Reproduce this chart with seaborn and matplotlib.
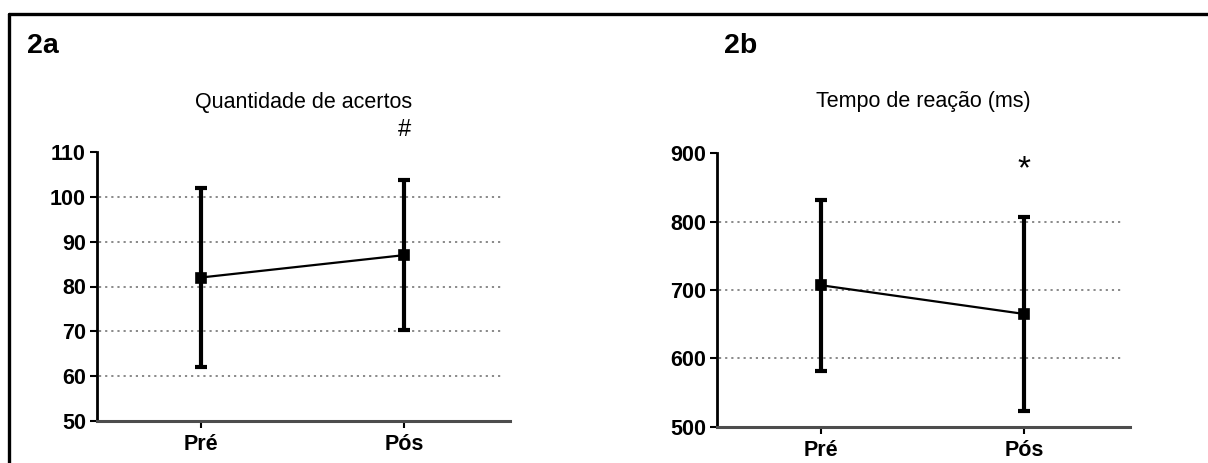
import matplotlib
matplotlib.use('Agg')
import matplotlib.pyplot as plt
import matplotlib.lines as mlines
import pandas as pd
import seaborn as sns

# dados (media e desvio padrao)
momentos = ['Pré', 'Pós']

acertosMedia = [82, 87]
acertosDP = [20, 16.7]

tempoMedia = [707, 665]
tempoDP = [125, 141]

sns.set_theme(style='white')
plt.rcParams['font.family'] = ['Liberation Sans', 'DejaVu Sans']
plt.rcParams['text.color'] = 'black'
plt.rcParams['xtick.color'] = 'black'
plt.rcParams['ytick.color'] = 'black'
plt.rcParams['axes.labelcolor'] = 'black'

fig = plt.figure(figsize=(12.08, 4.63), dpi=100)
W, H = 1208, 463

axA = fig.add_axes([97 / W, 1 - 421 / H, 413 / W, 269 / H])
axB = fig.add_axes([717 / W, 1 - 427 / H, 413 / W, 274 / H])


def painel(ax, medias, dps, ylim, ticks, grade, titulo, marca, ymarca, fmarca, pad):
    df = pd.DataFrame({'momento': momentos, 'valor': medias})
    sns.pointplot(data=df, x='momento', y='valor', color='black', errorbar=None,
                  markers='s', markersize=7.5, linewidth=1.6, ax=ax, zorder=3)
    ax.errorbar([0, 1], medias, yerr=dps, fmt='none', ecolor='black',
                elinewidth=3, capsize=4, capthick=3, zorder=4)
    for g in grade:
        ax.axhline(g, xmin=0.005, xmax=0.985, color='#808080', linestyle=(0, (1.2, 2.2)),
                   linewidth=1.3, zorder=1)
    ax.set_ylim(*ylim)
    ax.set_xlim(-0.51, 1.52)
    ax.set_yticks(ticks)
    ax.set_yticklabels([str(t) for t in ticks], fontweight='bold', fontsize=15.5)
    ax.set_xticks([0, 1])
    ax.set_xticklabels(momentos, fontweight='bold', fontsize=15.5)
    ax.set_xlabel('')
    ax.set_ylabel('')
    ax.tick_params(axis='both', direction='out', length=5, width=1.5, color='black',
                   left=True, bottom=True, pad=3)
    ax.tick_params(axis='x', pad=4)
    sns.despine(ax=ax)
    ax.spines['left'].set_linewidth(2)
    ax.spines['left'].set_color('black')
    ax.spines['bottom'].set_linewidth(2.2)
    ax.spines['bottom'].set_color('#4d4d4d')
    ax.set_title(titulo, fontsize=15.5, pad=pad)
    ax.text(1, ymarca, marca, ha='center', va='center', fontsize=fmarca, clip_on=False)


painel(axA, acertosMedia, acertosDP, (50, 110), [50, 60, 70, 80, 90, 100, 110],
       [60, 70, 80, 90, 100], 'Quantidade de acertos', '#', 114.9, 17, 32)
painel(axB, tempoMedia, tempoDP, (500, 900), [500, 600, 700, 800, 900],
       [600, 700, 800], 'Tempo de reação (ms)', '*', 876, 24, 33)

fig.text(27 / W, 1 - 46 / H, '2a', fontsize=20.5, fontweight='bold', va='center', ha='left')
fig.text(724 / W, 1 - 46 / H, '2b', fontsize=20.5, fontweight='bold', va='center', ha='left')

# moldura (apenas topo e esquerda visiveis)
fig.add_artist(mlines.Line2D([9 / W, 1], [1 - 14 / H, 1 - 14 / H], color='black', linewidth=2.4))
fig.add_artist(mlines.Line2D([9 / W, 9 / W], [0, 1 - 14 / H], color='black', linewidth=2.4))

fig.savefig('out.png', dpi=100)
